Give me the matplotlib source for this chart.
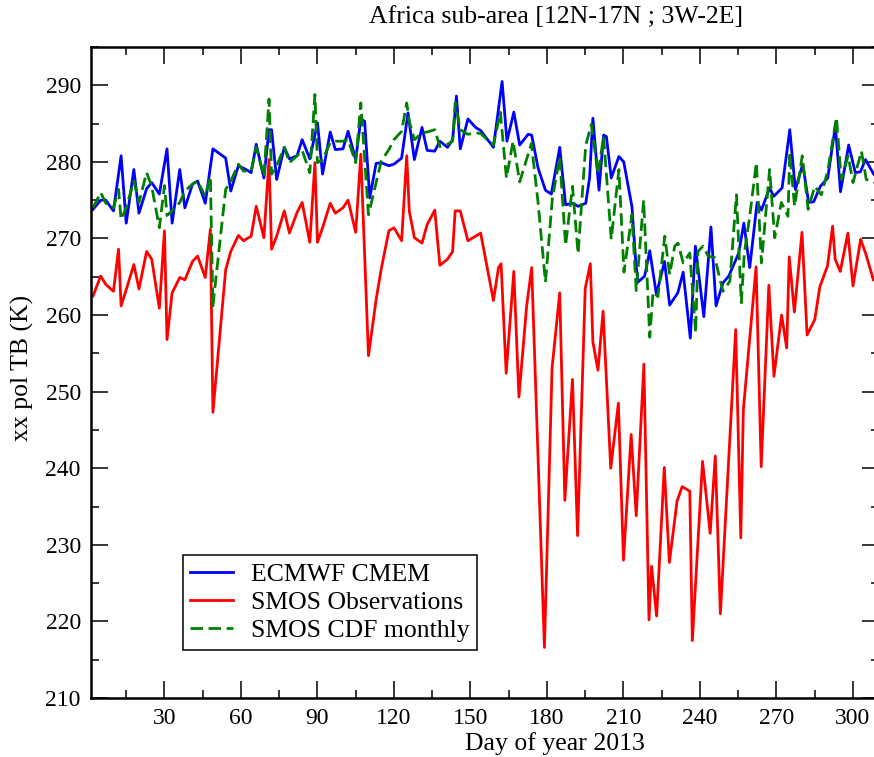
import matplotlib.pyplot as plt
from matplotlib.ticker import MultipleLocator

plt.rcParams['font.family'] = ['Liberation Serif', 'DejaVu Serif']

# ECMWF CMEM simulated brightness temperature (K)
cmem_day = [2, 5, 7, 10, 13, 15, 18, 20, 23, 25, 28, 31, 33, 36, 38, 41, 43, 46, 49, 54,
            56, 59, 62, 64, 66, 69, 71, 72, 74, 77, 79, 82, 84, 87, 90, 92, 95, 97, 100, 102,
            105, 107, 108.5, 110.5, 113, 115, 118, 120, 123, 125.5, 128, 131, 133, 136, 138, 141, 143, 144.5, 146, 149,
            152, 154, 159, 162.4, 164.3, 167, 169.3, 172.6, 174, 176.5, 179.4, 181.7, 185, 187.3, 190, 192.2, 195.2, 196.7, 198, 200.4,
            202.2, 203.3, 205.2, 208.2, 210.1, 213.3, 214.8, 215.7, 218.3, 220.3, 222.9, 226.1, 228.1, 231.3, 233.4, 236.2, 238.2, 241.5, 244.3, 246.3,
            249, 251.3, 255.2, 257.2, 259.5, 262.4, 264.1, 267.3, 268.9, 272.2, 275.2, 277.4, 280.3, 282.6, 284.6, 287.2, 290.1, 293.1, 295.1, 298.3,
            300.9, 302.9, 304.9, 308.1]
cmem_tb = [273.8, 275.0, 275.0, 273.6, 280.8, 272.0, 279.0, 273.3, 276.5, 277.3, 275.8, 281.7, 272.0, 279.0, 274.0, 277.1, 277.5, 274.6, 281.7, 280.5,
           276.2, 279.5, 279.0, 278.6, 282.3, 277.9, 284.2, 284.2, 277.7, 281.9, 280.4, 280.8, 282.9, 280.4, 285.1, 278.4, 283.9, 281.6, 281.7, 284.0,
           280.3, 285.6, 285.3, 275.3, 279.8, 279.9, 279.5, 279.7, 280.5, 286.4, 280.3, 284.5, 281.5, 281.4, 282.7, 281.9, 282.9, 288.6, 281.7, 285.6,
           284.5, 284.1, 281.9, 290.5, 282.7, 286.5, 282.2, 283.6, 283.5, 279.2, 276.3, 275.8, 281.9, 274.4, 274.6, 274.2, 274.6, 277.9, 285.7, 276.3,
           283.5, 283.3, 277.9, 280.7, 280.0, 274.2, 267.0, 264.3, 265.1, 268.4, 262.7, 267.0, 261.3, 262.9, 265.6, 257.0, 269.0, 259.8, 271.5, 261.2,
           264.2, 265.1, 268.1, 272.0, 266.2, 274.7, 273.7, 276.6, 275.5, 276.6, 284.2, 276.4, 279.7, 274.7, 274.8, 276.8, 277.9, 284.7, 276.1, 282.2,
           278.6, 278.7, 280.3, 278.4]

# SMOS observed brightness temperature (K)
obs_day = [2, 5, 7, 10, 12, 13, 15, 18, 20, 23, 25, 28, 30, 31, 33, 36, 38, 41, 43, 46,
           48, 49, 54, 56, 59, 61, 64, 66, 69, 71, 72, 74, 77, 79, 82, 84, 87, 89, 90, 92,
           95, 97, 100, 102, 105, 107, 110, 113, 115, 118, 120, 123, 125, 126, 128, 131, 133, 136, 138, 141,
           143, 144, 146, 149, 152, 154, 159, 161, 162, 164, 167, 169, 172, 174, 179, 182, 185, 187, 190, 192,
           195, 197, 198, 200, 202, 205, 208, 210, 213, 215, 218, 220, 221, 223, 226, 228, 231, 233, 236, 237,
           241, 244, 246, 248, 254, 256, 257, 262, 264, 267, 269, 272, 274, 275, 277, 280, 282, 285, 287, 290,
           292, 293, 295, 298, 300, 303, 305, 308]
obs_tb = [262.5, 265.1, 264.0, 263.1, 268.6, 261.2, 263.3, 266.6, 263.4, 268.3, 267.3, 260.9, 271.0, 256.8, 262.9, 264.9, 264.6, 267.0, 267.7, 264.9,
          271.2, 247.3, 265.9, 268.3, 270.4, 269.7, 270.3, 274.2, 270.1, 280.3, 268.6, 270.3, 273.6, 270.7, 273.4, 274.7, 269.5, 279.9, 269.5, 271.4,
          274.6, 273.3, 274.0, 275.0, 270.8, 281.0, 254.7, 262.0, 266.0, 271.0, 271.4, 269.7, 280.8, 273.6, 270.1, 269.4, 271.8, 273.7, 266.5, 267.3,
          268.3, 273.6, 273.6, 269.7, 270.3, 270.7, 261.9, 266.2, 266.7, 252.4, 265.7, 249.3, 261.1, 266.2, 216.6, 253.1, 262.9, 235.8, 251.6, 231.2,
          263.5, 266.7, 256.5, 252.8, 260.5, 240.0, 248.5, 228.0, 244.4, 233.8, 253.6, 220.2, 227.2, 220.7, 240.1, 227.7, 235.7, 237.6, 237.0, 217.5,
          240.9, 231.5, 241.6, 221.0, 258.1, 230.9, 247.6, 266.3, 240.2, 263.9, 252.0, 260.0, 255.7, 267.6, 260.4, 270.8, 257.4, 259.4, 263.7, 266.4,
          271.6, 267.3, 265.7, 270.7, 263.8, 269.9, 268.0, 264.6]

# SMOS after monthly CDF matching (K)
cdf_day = [2, 5, 7, 10, 12, 13, 15, 18, 20, 23, 25, 28, 30, 31, 33, 36, 38, 41, 43, 46,
           48, 49, 54, 56, 59, 61, 64, 66, 69, 71, 72, 74, 77, 79, 82, 84, 87, 89, 90, 92,
           95, 97, 100, 102, 105, 107, 110, 113, 115, 118, 120, 123, 125, 126, 128, 131, 133, 136, 138, 141,
           143, 144, 146, 149, 152, 154, 159, 161.7, 164.1, 166.7, 169.3, 173.9, 176.5, 179.4, 182.1, 185, 187.3, 190, 192.2, 195.2,
           197.4, 200, 202.2, 205.2, 208.2, 210.2, 213.3, 215, 217.9, 220.3, 221.6, 223.5, 226.2, 228.1, 230.1, 231.4, 233.4, 236, 238.3, 239.2,
           241.2, 243.2, 245.8, 249, 251.7, 254.3, 256.2, 257.4, 259.5, 262.1, 264.1, 267.3, 269.3, 271.9, 274.5, 275.2, 277.1, 280.1, 282.4, 285,
           287.6, 290.2, 293.5, 295.4, 298.1, 300, 303.3, 305.2, 308.3]
cdf_tb = [274.0, 276.0, 274.6, 274.0, 276.4, 272.5, 274.0, 277.5, 274.7, 278.6, 276.8, 271.4, 276.9, 273.0, 273.6, 274.7, 276.2, 277.1, 277.5, 275.5,
          278.1, 261.2, 276.4, 277.5, 279.7, 278.8, 278.8, 281.9, 278.1, 288.2, 278.4, 279.5, 281.9, 279.9, 280.8, 281.5, 278.6, 288.8, 279.9, 280.3,
          282.5, 282.7, 282.7, 282.9, 279.9, 287.7, 273.1, 277.3, 280.1, 281.6, 282.9, 284.0, 287.7, 285.3, 282.9, 283.8, 283.9, 284.2, 282.0, 282.3,
          282.7, 287.7, 284.2, 283.6, 283.8, 283.7, 282.2, 286.5, 277.9, 282.7, 277.4, 282.4, 274.7, 264.3, 275.2, 280.6, 269.1, 276.8, 268.0, 282.2,
          284.9, 278.4, 283.3, 269.9, 279.0, 265.6, 273.1, 263.2, 275.0, 257.1, 263.0, 262.4, 270.3, 265.3, 269.0, 269.4, 266.8, 268.1, 257.7, 268.3,
          269.0, 267.7, 267.5, 263.1, 264.4, 275.7, 261.6, 268.1, 272.9, 279.9, 266.8, 279.0, 270.1, 274.7, 272.9, 281.2, 274.2, 280.8, 273.8, 276.8,
          275.7, 279.0, 285.8, 277.7, 280.8, 277.3, 281.4, 277.7, 277.3]

fig = plt.figure(figsize=(8.74, 7.57), dpi=100)
ax = fig.add_axes([90.5 / 874, 59 / 757, 788 / 874, 651 / 757])

ax.plot(cmem_day, cmem_tb, color='#0000ff', lw=2.0, label='ECMWF CMEM')
ax.plot(obs_day, obs_tb, color='#ff0000', lw=2.0, label='SMOS Observations')
ax.plot(cdf_day, cdf_tb, color='#008000', lw=2.0, dashes=(4.5, 2), label='SMOS CDF monthly')

ax.set_xlim(1, 310)
ax.set_ylim(210, 295)
ax.xaxis.set_major_locator(MultipleLocator(30))
ax.xaxis.set_minor_locator(MultipleLocator(15))
ax.yaxis.set_major_locator(MultipleLocator(10))
ax.yaxis.set_minor_locator(MultipleLocator(5))
ax.tick_params(which='both', direction='in', top=True, right=True, width=1.1, labelsize=17)
ax.tick_params(which='major', length=12, pad=7)
ax.tick_params(which='minor', length=6)
for s in ax.spines.values():
    s.set_linewidth(1.8)

fig.text(556 / 874, 1 - 18 / 757, 'Africa sub-area [12N-17N ; 3W-2E]', ha='center', va='center', fontsize=18.5)
fig.text(555 / 874, 1 - 744 / 757, 'Day of year 2013', ha='center', va='center', fontsize=18.5)
fig.text(22 / 874, 1 - 368 / 757, 'xx pol TB (K)', ha='center', va='center', rotation=90, fontsize=18.5)

leg = ax.legend(loc='lower left', bbox_to_anchor=(0.117, 0.074), borderaxespad=0, fontsize=18.5,
                handlelength=1.65, handletextpad=0.7, labelspacing=0.2, borderpad=0.3,
                fancybox=False, framealpha=1)
leg.get_frame().set_edgecolor('black')
leg.get_frame().set_linewidth(1.1)

fig.savefig('out.png', dpi=100)
